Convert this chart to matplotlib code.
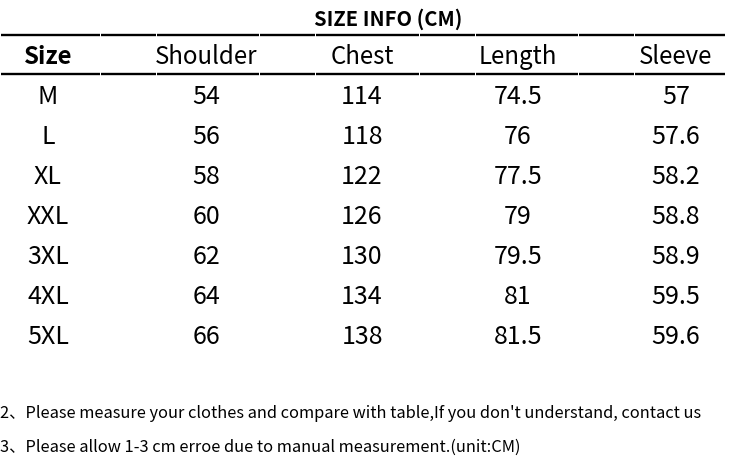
import matplotlib.pyplot as plt

# donnees du tableau
columns = ['Size', 'Shoulder', 'Chest', 'Length', 'Sleeve']
sizes = ['M', 'L', 'XL', 'XXL', '3XL', '4XL', '5XL']
shoulder = ['54', '56', '58', '60', '62', '64', '66']
chest = ['114', '118', '122', '126', '130', '134', '138']
length = ['74.5', '76', '77.5', '79', '79.5', '81', '81.5']
sleeve = ['57', '57.6', '58.2', '58.8', '58.9', '59.5', '59.6']
title = 'SIZE INFO (CM)'
notes = ["2\u3001Please measure your clothes and compare with table,If you don't understand, contact us",
         "3\u3001Please allow 1-3 cm erroe due to manual measurement.(unit:CM)"]

W, H = 741, 470
fam = ['Noto Sans CJK SC', 'DejaVu Sans']

fig = plt.figure(figsize=(W / 100, H / 100), dpi=100, facecolor='w')
ax = fig.add_axes([0, 0, 1, 1])
ax.set_xlim(0, W)
ax.set_ylim(H, 0)
ax.axis('off')

col_x = [48, 206, 362, 518, 676]
# lignes de base du texte (pixels)
row_base = [104, 144, 184, 224, 264, 304, 344]
gaps = [100, 156, 259, 315, 419, 475, 578, 634]

ax.text(388, 26, title, ha='center', va='baseline', fontsize=14.5,
        fontweight='bold', family=fam)

# lignes horizontales (avec petits trous entre cellules)
for y in [34.5, 73.5]:
    edges = [0] + gaps + [725]
    for a, b in zip(edges[:-1], edges[1:]):
        ax.plot([a + 1, b], [y, y], color='black', lw=1.7, solid_capstyle='butt')

for i, c in enumerate(columns):
    ax.text(col_x[i], 64, c, ha='center', va='baseline', fontsize=17.3,
            fontweight='bold' if i == 0 else 'normal', family=fam)

table = [sizes, shoulder, chest, length, sleeve]
for i, col in enumerate(table):
    for j, v in enumerate(col):
        ax.text(col_x[i], row_base[j], v, ha='center', va='baseline',
                fontsize=18, family=fam)

for k, n in enumerate(notes):
    ax.text(0, [418, 452][k], n, ha='left', va='baseline', fontsize=11.8, family=fam)

fig.savefig('out.png', dpi=100, facecolor='w')
